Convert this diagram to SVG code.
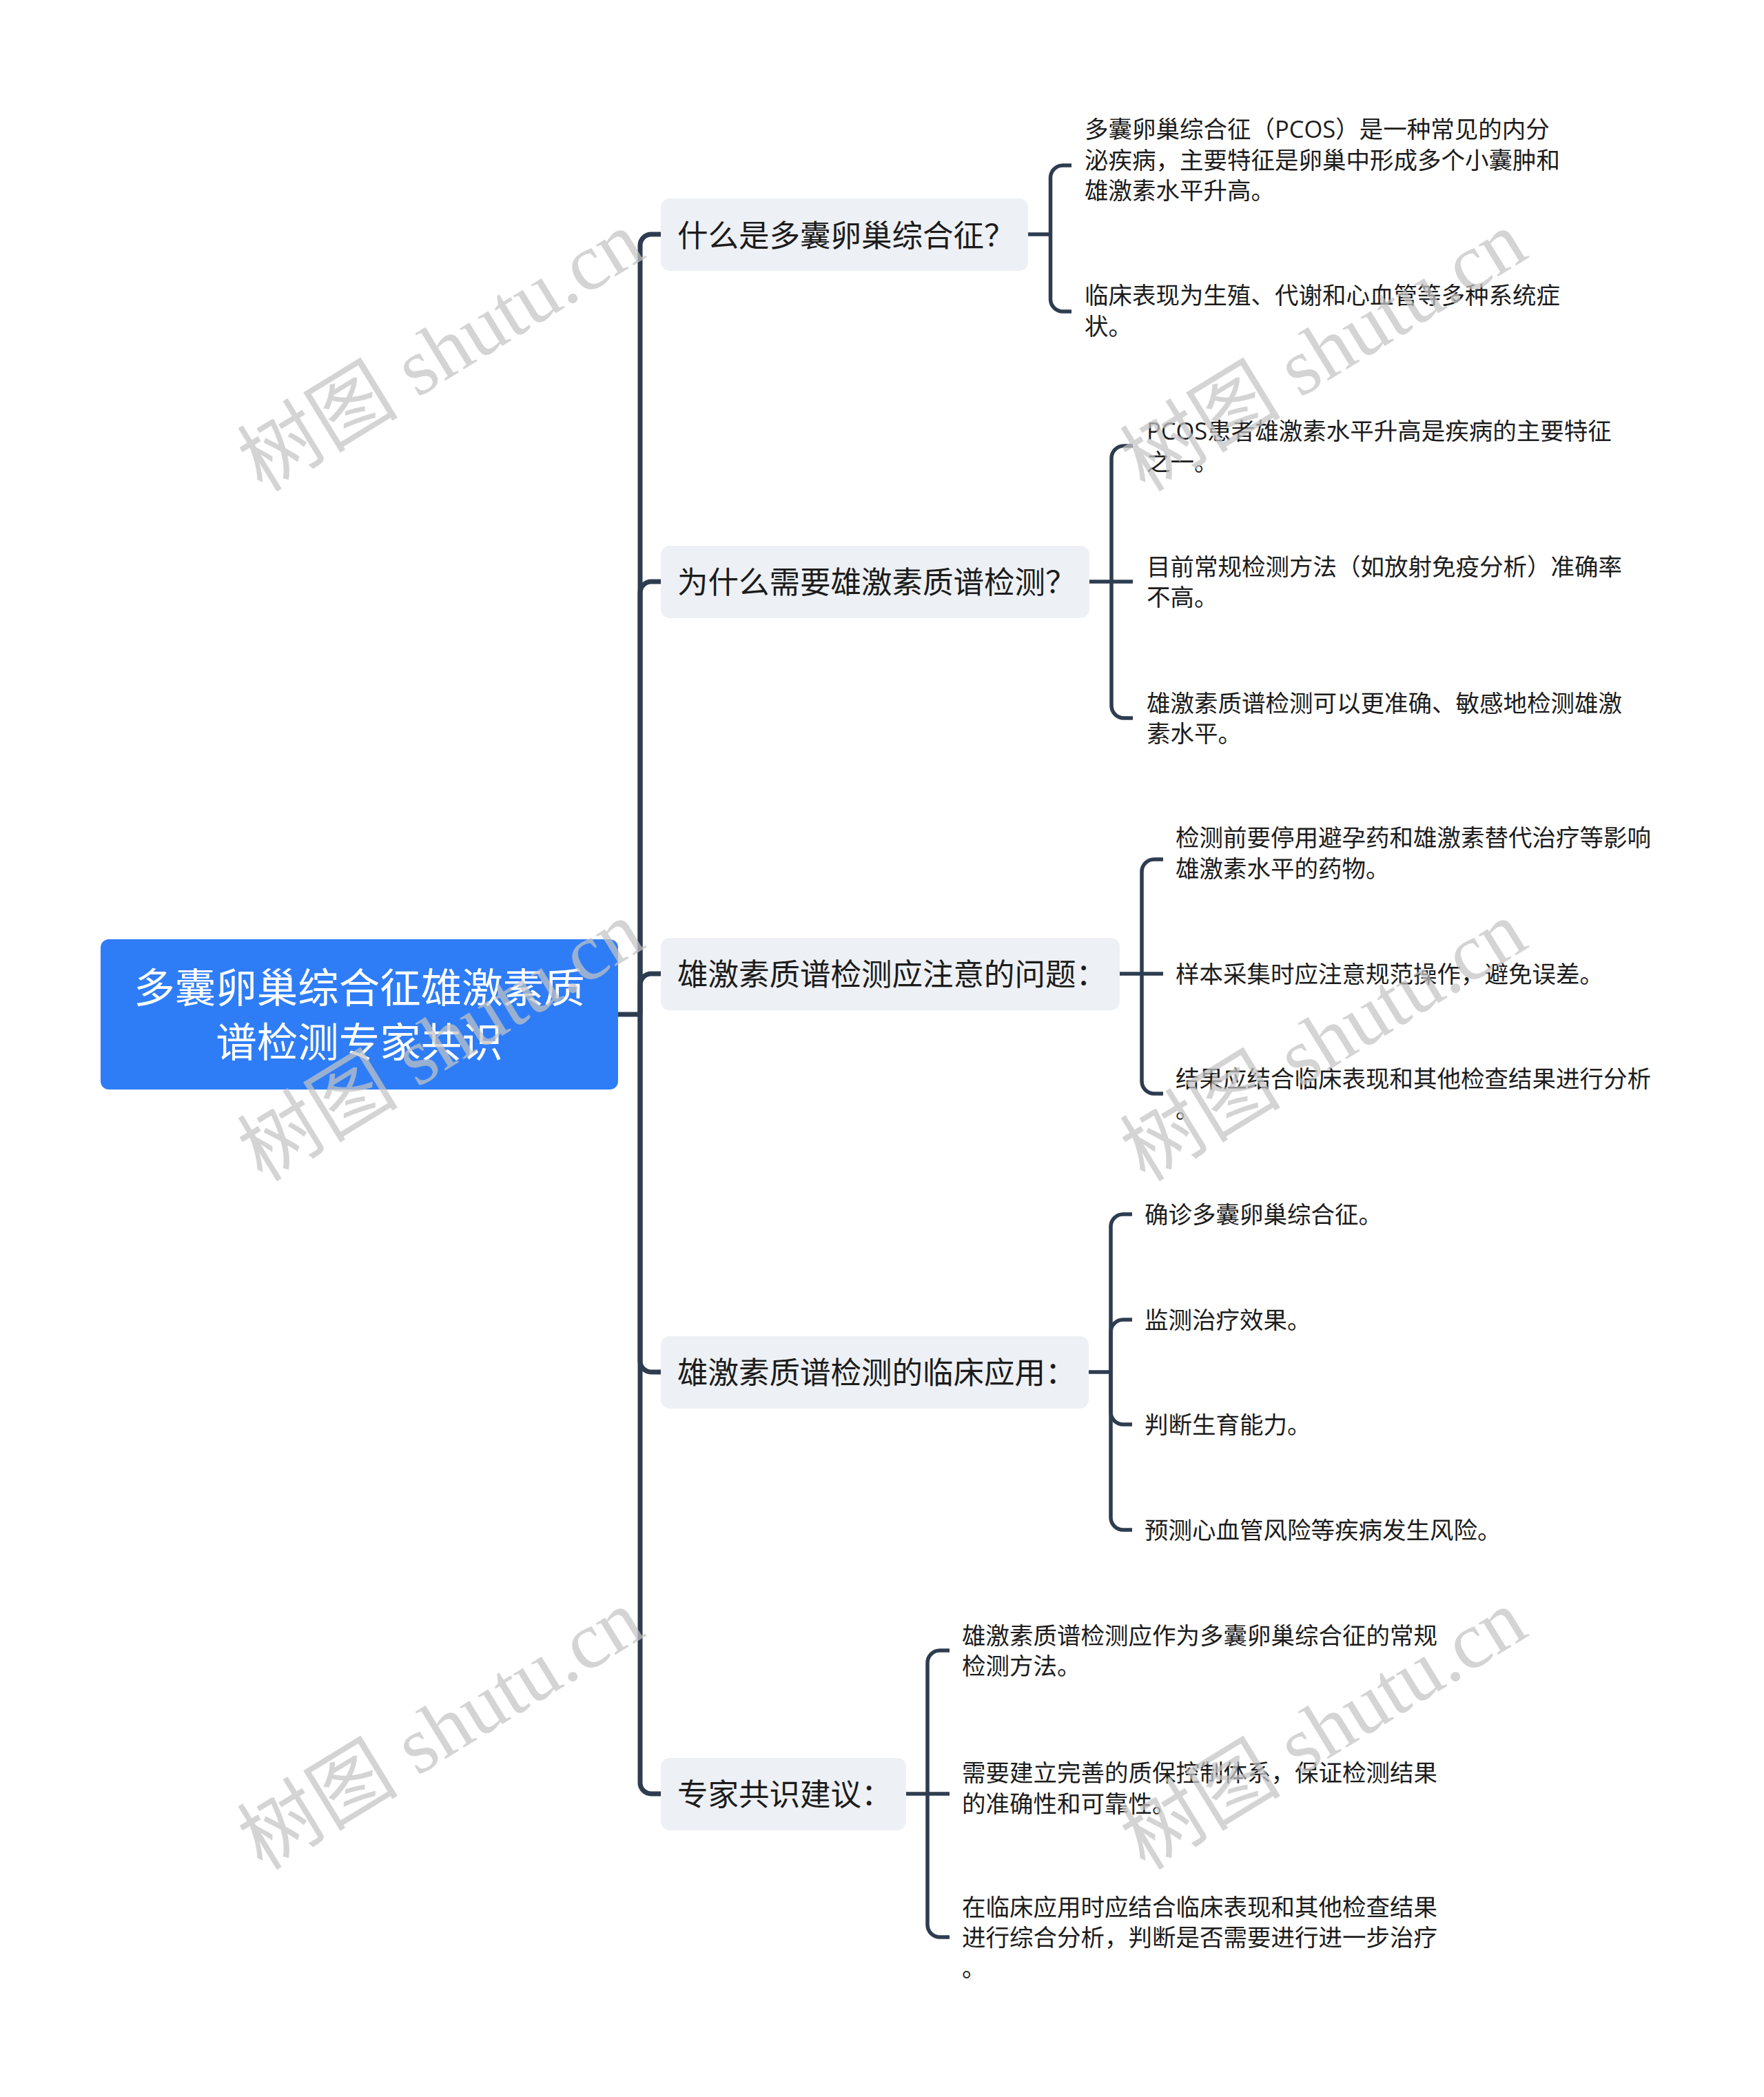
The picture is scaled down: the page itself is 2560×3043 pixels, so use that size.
<svg xmlns="http://www.w3.org/2000/svg" width="2560" height="3043" viewBox="0 0 2560 3043">
<style>
.conn{fill:none;stroke:#2e3c50;stroke-linecap:butt;stroke-linejoin:round}
.trunk{stroke-width:7}
.br{stroke-width:5.5}
.root rect{fill:#2f7df6}
.root text{font-family:"Noto Sans CJK SC",sans-serif;font-size:59.5px;fill:#ffffff;text-anchor:middle}
.branch rect{fill:#edf0f4}
.bt{font-family:"Noto Sans CJK SC",sans-serif;font-size:44.5px;fill:#1c1c1c}
.ct{font-family:"Open Sans","Noto Sans CJK SC",sans-serif;font-size:34.5px;fill:#1c1c1c}
.wm{font-family:"Liberation Serif","Noto Sans CJK SC",serif;font-size:117px;fill:#c4c4c4;opacity:0.72;text-anchor:middle;dominant-baseline:central}
</style>
<rect x="0" y="0" width="2560" height="3043" fill="#ffffff"/>

<g id="connectors">
  <path class="conn trunk" d="M897,1472 H929"/>
  <path class="conn trunk" d="M929,1472 V356 A16,16 0 0 1 945,340 H959"/>
  <path class="conn trunk" d="M929,1472 V860 A16,16 0 0 1 945,844 H959"/>
  <path class="conn trunk" d="M929,1472 V1429 A16,16 0 0 1 945,1413 H959"/>
  <path class="conn trunk" d="M929,1472 V1975 A16,16 0 0 0 945,1991 H959"/>
  <path class="conn trunk" d="M929,1472 V2587 A16,16 0 0 0 945,2603 H959"/>

  <path class="conn br" d="M1492,340 H1524.5"/>
  <path class="conn br" d="M1524.5,340 V258 A18,18 0 0 1 1542.5,240 H1555"/>
  <path class="conn br" d="M1524.5,340 V434 A18,18 0 0 0 1542.5,452 H1555"/>

  <path class="conn br" d="M1581,844 H1644"/>
  <path class="conn br" d="M1613,844 V665 A18,18 0 0 1 1631,647 H1644"/>
  <path class="conn br" d="M1613,844 V1024 A18,18 0 0 0 1631,1042 H1644"/>

  <path class="conn br" d="M1625,1413 H1688"/>
  <path class="conn br" d="M1657,1413 V1265 A18,18 0 0 1 1675,1247 H1688"/>
  <path class="conn br" d="M1657,1413 V1569 A18,18 0 0 0 1675,1587 H1688"/>

  <path class="conn br" d="M1580,1991 H1612"/>
  <path class="conn br" d="M1612,1991 V1780 A18,18 0 0 1 1630,1762 H1643"/>
  <path class="conn br" d="M1612,1991 V1933 A18,18 0 0 1 1630,1915 H1643"/>
  <path class="conn br" d="M1612,1991 V2049 A18,18 0 0 0 1630,2067 H1643"/>
  <path class="conn br" d="M1612,1991 V2202 A18,18 0 0 0 1630,2220 H1643"/>

  <path class="conn br" d="M1315,2603 H1378"/>
  <path class="conn br" d="M1346,2603 V2413 A18,18 0 0 1 1364,2395 H1378"/>
  <path class="conn br" d="M1346,2603 V2793 A18,18 0 0 0 1364,2811 H1378"/>
</g>

<g id="root" class="root">
  <rect x="146" y="1363" width="751" height="218" rx="12"/>
  <text x="521.5" y="1455">多囊卵巢综合征雄激素质</text>
  <text x="521.5" y="1534">谱检测专家共识</text>
</g>

<g id="branch1" class="branch">
  <rect x="959" y="288" width="533" height="105" rx="13"/>
  <text class="bt" x="983" y="358">什么是多囊卵巢综合征？</text>
</g>
<g id="b1c1"><text class="ct" x="1574" y="200">多囊卵巢综合征（PCOS）是一种常见的内分</text><text class="ct" x="1574" y="244.5">泌疾病，主要特征是卵巢中形成多个小囊肿和</text><text class="ct" x="1574" y="289">雄激素水平升高。</text></g>
<g id="b1c2"><text class="ct" x="1574" y="441">临床表现为生殖、代谢和心血管等多种系统症</text><text class="ct" x="1574" y="486">状。</text></g>

<g id="branch2" class="branch">
  <rect x="959" y="792" width="622" height="105" rx="13"/>
  <text class="bt" x="983" y="861">为什么需要雄激素质谱检测？</text>
</g>
<g id="b2c1"><text class="ct" x="1664" y="638">PCOS患者雄激素水平升高是疾病的主要特征</text><text class="ct" x="1664" y="683">之一。</text></g>
<g id="b2c2"><text class="ct" x="1664" y="835">目前常规检测方法（如放射免疫分析）准确率</text><text class="ct" x="1664" y="879">不高。</text></g>
<g id="b2c3"><text class="ct" x="1664" y="1033">雄激素质谱检测可以更准确、敏感地检测雄激</text><text class="ct" x="1664" y="1077">素水平。</text></g>

<g id="branch3" class="branch">
  <rect x="959" y="1361" width="666" height="105" rx="13"/>
  <text class="bt" x="983" y="1430">雄激素质谱检测应注意的问题：</text>
</g>
<g id="b3c1"><text class="ct" x="1706" y="1228">检测前要停用避孕药和雄激素替代治疗等影响</text><text class="ct" x="1706" y="1273">雄激素水平的药物。</text></g>
<g id="b3c2"><text class="ct" x="1706" y="1426">样本采集时应注意规范操作，避免误差。</text></g>
<g id="b3c3"><text class="ct" x="1706" y="1578">结果应结合临床表现和其他检查结果进行分析</text><text class="ct" x="1706" y="1622">。</text></g>

<g id="branch4" class="branch">
  <rect x="959" y="1939" width="621" height="105" rx="13"/>
  <text class="bt" x="983" y="2008">雄激素质谱检测的临床应用：</text>
</g>
<g id="b4c1"><text class="ct" x="1661" y="1775">确诊多囊卵巢综合征。</text></g>
<g id="b4c2"><text class="ct" x="1661" y="1928">监测治疗效果。</text></g>
<g id="b4c3"><text class="ct" x="1661" y="2080">判断生育能力。</text></g>
<g id="b4c4"><text class="ct" x="1661" y="2233">预测心血管风险等疾病发生风险。</text></g>

<g id="branch5" class="branch">
  <rect x="959" y="2551" width="356" height="105" rx="13"/>
  <text class="bt" x="983" y="2620">专家共识建议：</text>
</g>
<g id="b5c1"><text class="ct" x="1396" y="2386">雄激素质谱检测应作为多囊卵巢综合征的常规</text><text class="ct" x="1396" y="2430">检测方法。</text></g>
<g id="b5c2"><text class="ct" x="1396" y="2585">需要建立完善的质保控制体系，保证检测结果</text><text class="ct" x="1396" y="2630">的准确性和可靠性。</text></g>
<g id="b5c3"><text class="ct" x="1396" y="2780">在临床应用时应结合临床表现和其他检查结果</text><text class="ct" x="1396" y="2824">进行综合分析，判断是否需要进行进一步治疗</text><text class="ct" x="1396" y="2868">。</text></g>

<g id="watermarks">
  <text class="wm" transform="translate(640,510) rotate(-31.5)">树图 shutu.cn</text>
  <text class="wm" transform="translate(1921,510) rotate(-31.5)">树图 shutu.cn</text>
  <text class="wm" transform="translate(640,1511) rotate(-31.5)">树图 shutu.cn</text>
  <text class="wm" transform="translate(1921,1511) rotate(-31.5)">树图 shutu.cn</text>
  <text class="wm" transform="translate(640,2510) rotate(-31.5)">树图 shutu.cn</text>
  <text class="wm" transform="translate(1921,2510) rotate(-31.5)">树图 shutu.cn</text>
</g>
</svg>
